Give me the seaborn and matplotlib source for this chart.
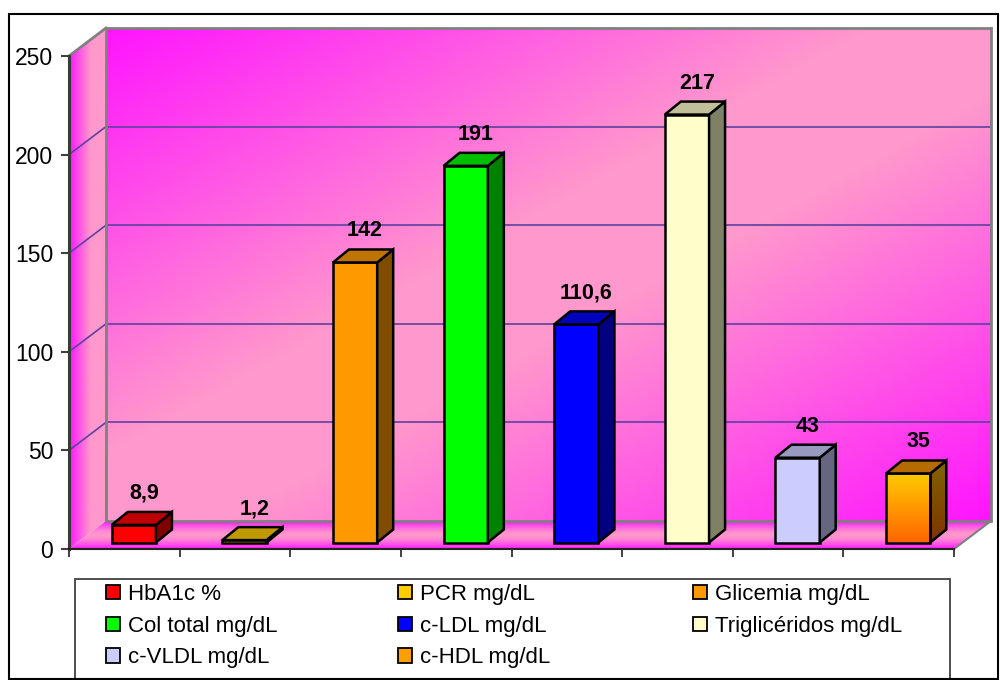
import numpy as np
import matplotlib
matplotlib.use("Agg")
import matplotlib.pyplot as plt
import matplotlib.colors as mcolors
from matplotlib.patches import Polygon, Rectangle
from matplotlib.transforms import ScaledTranslation
import seaborn as sns

# ---- data -------------------------------------------------------------
categories = ["HbA1c %", "PCR mg/dL", "Glicemia mg/dL", "Col total mg/dL",
              "c-LDL mg/dL", "Triglicéridos mg/dL", "c-VLDL mg/dL", "c-HDL mg/dL"]
values = [8.9, 1.2, 142, 191, 110.6, 217, 43, 35]
y_ticks = [0, 50, 100, 150, 200, 250]

# ---- style ------------------------------------------------------------
bar_colors = ["#FF0000", "#FFCC00", "#FF9900", "#00FF00",
              "#0000FF", "#FFFFCC", "#CCCCFF", "#FFCC00"]
legend_colors = ["#FF0000", "#FFCC00", "#FF9900", "#00FF00",
                 "#0000FF", "#FFFFCC", "#CCCCFF", "#FFA000"]
hdl_gradient = ("#FFCC00", "#FF6600")      # top -> bottom of the last bar
hdl_index = 7

W, H, DPI = 1002, 680, 100
WALL_DEPTH = np.array([37.0, 28.0])         # px offset of the back wall
BAR_SHIFT = np.array([9.5, 6.5])            # px offset of bar fronts
BAR_DEPTH = np.array([16.0, 13.0])          # px depth of each bar
MAGENTA = np.array(mcolors.to_rgb("#FF14FF"))
PINK = np.array(mcolors.to_rgb("#FF99CC"))
GRID_COLOR = "#6040A0"
EDGE_GRAY = "#808080"

plt.rcParams["font.family"] = ["Liberation Sans", "DejaVu Sans"]

fig = plt.figure(figsize=(W / DPI, H / DPI), dpi=DPI)
fig.patch.set_facecolor("white")

# background axes in pixel units, for walls and floor
bg = fig.add_axes([0, 0, 1, 1], zorder=0)
bg.set_axis_off()
bg.set_xlim(0, W)
bg.set_ylim(0, H)

# main axes: the front plane of the chart
ax = fig.add_axes([69 / W, 131 / H, 885 / W, 493 / H], zorder=2)
ax.set_facecolor("none")

sns.barplot(x=categories, y=values, hue=categories, order=categories,
            hue_order=categories, palette=bar_colors, dodge=False,
            width=0.4, saturation=1, edgecolor="black", linewidth=1.8,
            legend=False, ax=ax)
bars = sorted(ax.patches, key=lambda p: p.get_x())

n = len(categories)
ax.set_xlim(-0.5, n - 0.5)
ax.set_ylim(y_ticks[0], y_ticks[-1])


def to_px(x, y):
    return bg.transData.inverted().transform(ax.transData.transform((x, y)))


def gradient_fill(poly_pts, rgb_func, zorder, nx=240, ny=240):
    pts = np.asarray(poly_pts)
    x0, y0 = pts.min(0)
    x1, y1 = pts.max(0)
    u = np.linspace(0, 1, nx)[None, :]
    v = np.linspace(0, 1, ny)[:, None]
    img = np.clip(rgb_func(u, v), 0, 1)
    im = bg.imshow(img, extent=[x0, x1, y0, y1], origin="upper",
                   aspect="auto", interpolation="bilinear", zorder=zorder)
    clip = Polygon(pts, closed=True, transform=bg.transData,
                   facecolor="none", edgecolor="none")
    bg.add_patch(clip)
    im.set_clip_path(clip)
    return im


def blend(w):
    w = np.asarray(w)[..., None]
    return MAGENTA + (PINK - MAGENTA) * w


xl, xr = -0.5, n - 0.5
ymin, ymax = y_ticks[0], y_ticks[-1]
FLB, FRB, FLT, FRT = to_px(xl, ymin), to_px(xr, ymin), to_px(xl, ymax), to_px(xr, ymax)
D = WALL_DEPTH

# back wall: diagonal magenta -> pink -> magenta
back = [FLB + D, FRB + D, FRT + D, FLT + D]
gradient_fill(back, lambda u, v: blend(np.minimum(1, 1.15 * (1 - np.abs(u + v - 1)))), zorder=1)

# side wall: magenta on the outside, pink towards the back
side = [FLB, FLT, FLT + D, FLB + D]
gradient_fill(side, lambda u, v: blend(np.minimum(1, u * 1.7) + 0 * v), zorder=1)

# floor: magenta at front and back edges, pink in between
floor = [FLB, FRB, FRB + D, FLB + D]
gradient_fill(floor, lambda u, v: blend(1 - np.abs(2 * v - 1) ** 1.5 + 0 * u), zorder=1)

# gridlines on back wall and side wall
for t in y_ticks[1:-1]:
    a, b = to_px(xl, t), to_px(xr, t)
    bg.plot([a[0] + D[0], b[0] + D[0]], [a[1] + D[1], b[1] + D[1]],
            color=GRID_COLOR, lw=1.2, zorder=3)
    bg.plot([a[0], a[0] + D[0]], [a[1], a[1] + D[1]],
            color=GRID_COLOR, lw=1.2, zorder=3)

# wall outlines
bg.add_patch(Polygon(back, closed=True, fill=False, edgecolor=EDGE_GRAY,
                     lw=2, zorder=4))
bg.plot([FLT[0], FLT[0] + D[0]], [FLT[1], FLT[1] + D[1]],
        color=EDGE_GRAY, lw=2, zorder=4)
bg.plot([FRB[0], FRB[0] + D[0]], [FRB[1], FRB[1] + D[1]],
        color=EDGE_GRAY, lw=1.5, zorder=4)

# ---- bars: shift fronts and add top / side faces -----------------------
shift = ScaledTranslation(BAR_SHIFT[0] / DPI, BAR_SHIFT[1] / DPI,
                          fig.dpi_scale_trans)


def shade(color, f):
    return tuple(np.array(mcolors.to_rgb(color)) * f)


for i, (p, val) in enumerate(zip(bars, values)):
    p.set_transform(ax.transData + shift)
    p.set_clip_on(False)
    x, w, h = p.get_x(), p.get_width(), p.get_height()
    BL = to_px(x, 0) + BAR_SHIFT
    BR = to_px(x + w, 0) + BAR_SHIFT
    TL = to_px(x, h) + BAR_SHIFT
    TR = to_px(x + w, h) + BAR_SHIFT
    top = [TL, TR, TR + BAR_DEPTH, TL + BAR_DEPTH]
    side_face = [BR, TR, TR + BAR_DEPTH, BR + BAR_DEPTH]

    if i == hdl_index:
        c_top, c_bot = (np.array(mcolors.to_rgb(c)) for c in hdl_gradient)
        p.set_facecolor("none")
        gradient_fill([BL, BR, TR, TL],
                      lambda u, v: c_top + (c_bot - c_top) * (v + 0 * u)[..., None],
                      zorder=6)
        gradient_fill(side_face,
                      lambda u, v: 0.5 * (c_top + (c_bot - c_top) * (v + 0 * u)[..., None]),
                      zorder=6)
        ax.add_patch(Polygon(side_face, closed=True, facecolor="none",
                             edgecolor="black", lw=1.8, transform=bg.transData,
                             clip_on=False, zorder=p.get_zorder()))
        ax.add_patch(Polygon(top, closed=True, facecolor="#B46C00",
                             edgecolor="black", lw=1.8, transform=bg.transData,
                             clip_on=False, zorder=p.get_zorder()))
    else:
        col = bar_colors[i]
        ax.add_patch(Polygon(side_face, closed=True, facecolor=shade(col, 0.5),
                             edgecolor="black", lw=1.8, transform=bg.transData,
                             clip_on=False, zorder=p.get_zorder()))
        ax.add_patch(Polygon(top, closed=True, facecolor=shade(col, 0.75),
                             edgecolor="black", lw=1.8, transform=bg.transData,
                             clip_on=False, zorder=p.get_zorder()))

    label = f"{val:g}".replace(".", ",")
    ax.annotate(label, xy=(x + w / 2, h),
                xytext=((BAR_SHIFT[0] + 10) * 72 / DPI,
                        (BAR_SHIFT[1] + BAR_DEPTH[1] + 13) * 72 / DPI),
                textcoords="offset points", ha="center", va="baseline",
                fontsize=15.5, fontweight="bold", color="black",
                annotation_clip=False)

# ---- axes ---------------------------------------------------------------
ax.set_xlim(-0.5, n - 0.5)
ax.set_ylim(ymin, ymax)
bg.set_xlim(0, W)
bg.set_ylim(0, H)

ax.set_yticks(y_ticks)
ax.set_yticklabels([str(t) for t in y_ticks])
ax.set_xticks(np.arange(-0.5, n, 1.0))
ax.set_xticklabels([])
ax.set_xlabel("")
ax.set_ylabel("")
for s in ("top", "right"):
    ax.spines[s].set_visible(False)
ax.spines["left"].set_color("#3A3A3A")
ax.spines["left"].set_linewidth(2.2)
ax.spines["bottom"].set_color("#222222")
ax.spines["bottom"].set_linewidth(1.5)
ax.tick_params(axis="y", direction="out", length=5.8, width=1.5,
               color="#404040", pad=5.5, labelsize=16.5, labelcolor="black",
               left=True)
ax.tick_params(axis="x", direction="out", length=5.8, width=1.2,
               color="#222222", bottom=True, labelbottom=False)
ax.grid(False)

# ---- legend ---------------------------------------------------------------
handles = [Rectangle((0, 0), 1, 1, facecolor=c, edgecolor="black", linewidth=1.3)
           for c in legend_colors]
col_x = [106, 398, 693]
col_items = [[0, 3, 6], [1, 4, 7], [2, 5]]
for cx, idxs in zip(col_x, col_items):
    fig.legend([handles[i] for i in idxs], [categories[i] for i in idxs],
               loc="upper left", bbox_to_anchor=(cx / W, (H - 584) / H),
               bbox_transform=fig.transFigure, frameon=False, borderpad=0,
               borderaxespad=0, handlelength=0.63, handleheight=0.63,
               handletextpad=0.36, labelspacing=0.48, fontsize=16)

fig.add_artist(Rectangle((75 / W, 0), 875 / W, 101 / H, transform=fig.transFigure,
                         fill=False, edgecolor="#404040", lw=1.3))
fig.add_artist(Rectangle((9 / W, 1 / H), 989 / W, 665 / H, transform=fig.transFigure,
                         fill=False, edgecolor="black", lw=1.5))

fig.savefig("out.png", dpi=DPI)
